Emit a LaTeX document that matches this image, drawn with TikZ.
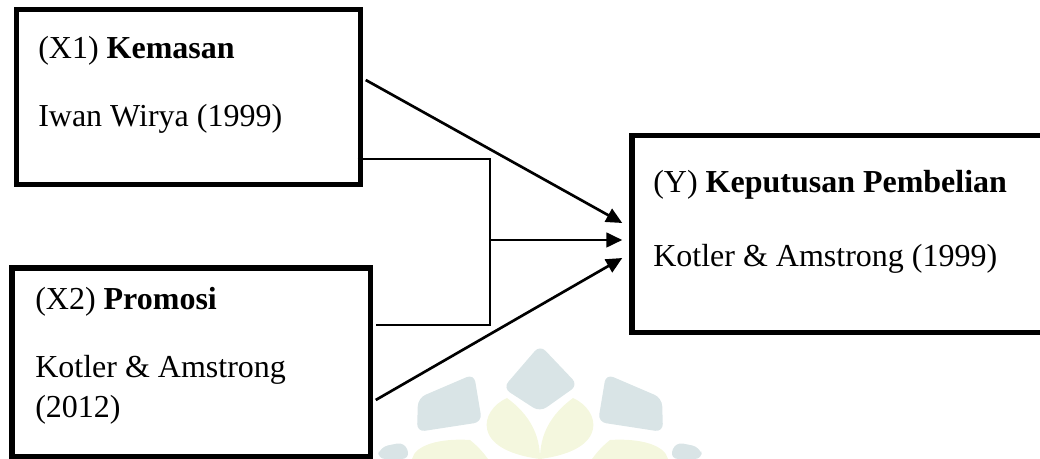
\documentclass[tikz,border=0pt]{standalone}
\usepackage{fontspec}
\setmainfont{Liberation Serif}
\usetikzlibrary{arrows.meta,calc}
\definecolor{wmb}{HTML}{D9E4E6}
\definecolor{wmy}{HTML}{F4F7DE}
\begin{document}
\begin{tikzpicture}[x=0.75pt,y=-0.75pt,
  box/.style={draw, line width=4.1pt, rectangle, inner sep=0pt},
  conn/.style={line width=2pt},
  arr/.style={conn, -{Triangle[length=12pt,width=11pt]}},
  lbl/.style={anchor=base west, inner sep=0pt, font=\fontsize{24}{29}\selectfont},
  wmblue/.style={fill=wmb, draw=none, rounded corners=6pt},
  wmyel/.style={fill=wmy, draw=none}]
\useasboundingbox (0,0) rectangle (1040,459);
\clip (0,0) rectangle (1040,459);
% faint watermark
\fill[wmblue] (540,345) -- (578,385) -- (540,412) -- (503,388) -- cycle;
\fill[wmblue] (418,398) -- (474,374) -- (482,422) -- (417,432) -- cycle;
\fill[wmblue] (662,398) -- (606,374) -- (598,422) -- (663,432) -- cycle;
\fill[wmblue] (377,459) -- (380,447) -- (405,442) -- (410,459) -- cycle;
\fill[wmblue] (703,459) -- (700,447) -- (675,442) -- (670,459) -- cycle;
\fill[wmyel] (540,459) .. controls (470,450) and (480,410) .. (507,398) .. controls (530,415) and (540,435) .. (540,459);
\fill[wmyel] (540,459) .. controls (610,450) and (600,410) .. (573,398) .. controls (550,415) and (540,435) .. (540,459);
\fill[wmyel] (412,459) .. controls (415,445) and (440,438) .. (470,440) .. controls (480,448) and (485,455) .. (488,459) -- cycle;
\fill[wmyel] (668,459) .. controls (665,445) and (640,438) .. (610,440) .. controls (600,448) and (595,455) .. (592,459) -- cycle;
% boxes
\node[box, minimum width=258pt, minimum height=131.25pt] (x1) at (188.5,97) {};
\node[box, minimum width=268.9pt, minimum height=141.75pt] (x2) at (191.25,362.5) {};
\node[box, minimum width=312pt, minimum height=147.75pt] (y) at (840,234) {};
% texts
\node[lbl] (t1a) at (38,58.3) {(X1) \textbf{Kemasan}};
\node[lbl] (t1b) at (38,126.7) {Iwan Wirya (1999)};
\node[lbl] (t2a) at (35,310) {(X2) \textbf{Promosi}};
\node[lbl] (t2b) at (35,378) {Kotler \& Amstrong};
\node[lbl] (t2c) at (35,418) {(2012)};
\node[lbl] (tya) at (653,193) {(Y) \textbf{Keputusan Pembelian}};
\node[lbl] (tyb) at (653,267) {Kotler \& Amstrong (1999)};
% connectors
\coordinate (jt) at (490,159);
\coordinate (jm) at (490,240);
\coordinate (jb) at (490,325);
\draw[arr] ($(x1.east)+(2.5,-17)$) -- ($(y.west)+(-7,-11)$);
\draw[conn] ($(x1.east)+(-5.5,62)$) -- (jt) -- (jb) -- ($(x2.east)+(2.5,-37.5)$);
\draw[arr] (jm) -- ($(y.west)+(-7,6)$);
\draw[arr] ($(x2.east)+(2.5,37.5)$) -- ($(y.west)+(-7,24)$);
\end{tikzpicture}
\end{document}
